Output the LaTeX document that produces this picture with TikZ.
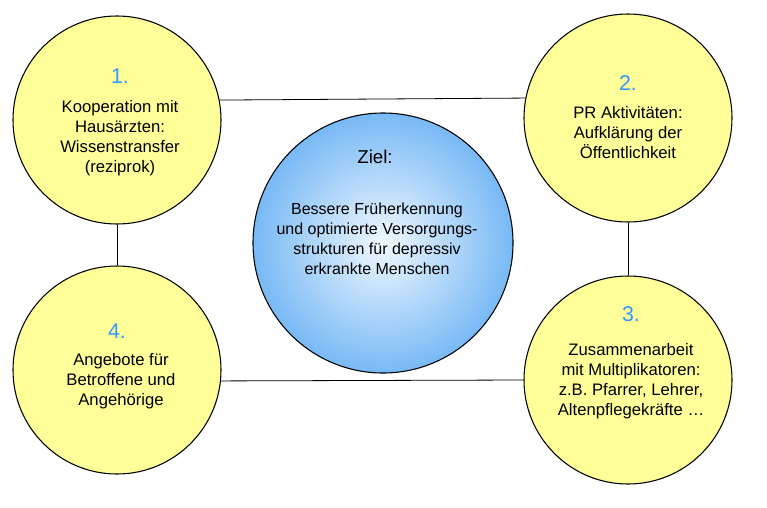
\documentclass[tikz,border=0pt]{standalone}
\usepackage{fontspec}
\setmainfont{Liberation Sans}
\definecolor{circfill}{RGB}{255,255,153}
\definecolor{numblue}{RGB}{51,153,255}
\definecolor{zielblue}{RGB}{120,185,245}
\definecolor{zielcore}{RGB}{240,248,255}
\begin{document}
\begin{tikzpicture}[x=0.75pt,y=-0.75pt, thick,
	every node/.style={font=\fontsize{12.5}{15}\selectfont, align=center},
	aufgabe/.style={circle, draw=black, fill=circfill, minimum size=156pt, inner sep=0pt},
	ziel/.style={circle, draw=black, inner color=zielcore, outer color=zielblue, minimum size=195pt, inner sep=0pt},
	nummer/.style={text=numblue, font=\fontsize{16}{19}\selectfont}]
		
		\useasboundingbox (0,0) rectangle (767,507);
		
		\node[aufgabe] (koop) at (117,120) {};
		\node[aufgabe] (pr) at (628,118) {};
		\node[aufgabe] (angebot) at (117,370) {};
		\node[aufgabe] (multi) at (628,380) {};
		
		\draw[semithick] (koop.11) -- (pr.169);
		\draw[semithick] (angebot.-6) -- (multi.180);
		\draw[semithick] (koop.south) -- (angebot.north);
		\draw[semithick] (pr.south) -- (multi.north);
		
		\node[ziel] (zielkreis) at (383,243) {};
		
		\node[nummer] at (120,76) {1.};
		\node at (120,138) {Kooperation mit\\Hausärzten:\\Wissenstransfer\\(reziprok)};
		\node[nummer] at (628,83) {2.};
		\node at (628,133) {PR Aktivitäten:\\Aufklärung der\\Öffentlichkeit};
		\node[nummer] at (631,314) {3.};
		\node at (631,381) {Zusammenarbeit\\mit Multiplikatoren:\\z.B. Pfarrer, Lehrer,\\Altenpflegekräfte \dots};
		\node[nummer] at (117,331) {4.};
		\node at (121,381) {Angebote für\\Betroffene und\\Angehörige};
		
		\node[font=\fontsize{14}{17}\selectfont] at (375,157) {Ziel:};
		\node[font=\fontsize{12}{15}\selectfont] at (377,239) {Bessere Früherkennung\\und optimierte Versorgungs-\\strukturen für depressiv\\erkrankte Menschen};
		
	\end{tikzpicture}
\end{document}
